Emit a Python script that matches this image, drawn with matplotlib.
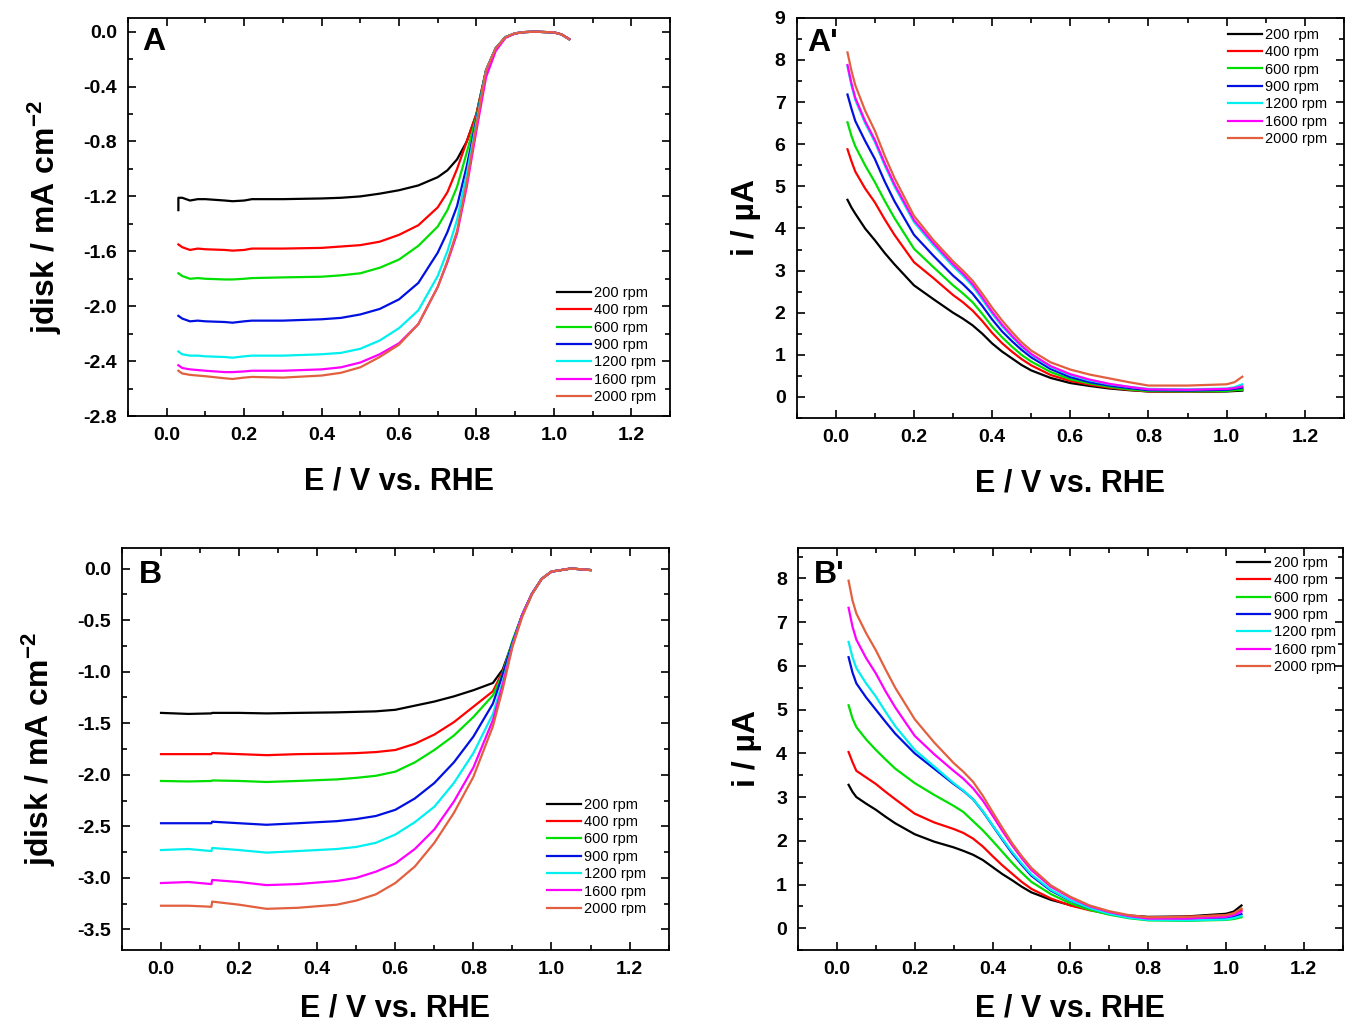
import matplotlib
matplotlib.use("Agg")
import matplotlib.pyplot as plt
from matplotlib.ticker import MultipleLocator, FormatStrFormatter

plt.rcParams['font.family'] = ['Liberation Sans', 'DejaVu Sans']
plt.rcParams['mathtext.fontset'] = 'custom'
plt.rcParams['mathtext.rm'] = 'Liberation Sans:bold'
plt.rcParams['mathtext.bf'] = 'Liberation Sans:bold'
plt.rcParams['mathtext.default'] = 'bf'

labels = ["200 rpm", "400 rpm", "600 rpm", "900 rpm", "1200 rpm", "1600 rpm", "2000 rpm"]
colors = ["#000000", "#ff0000", "#00e000", "#0010e0", "#00f0f0", "#ff00ff", "#e2603f"]

# ---------------- Panel A (disk current) ----------------
EA = [0.03, 0.04, 0.06, 0.08, 0.10, 0.15, 0.17, 0.20, 0.22, 0.30, 0.40, 0.45, 0.50, 0.55,
      0.60, 0.65, 0.70, 0.725, 0.75, 0.775, 0.80, 0.825, 0.85, 0.875, 0.90, 0.925, 0.95,
      1.00, 1.02, 1.04]
tailA = [-0.28, -0.12, -0.04, -0.012, -0.003, 0.0, -0.005, -0.02, -0.055]
jA_200 = [-1.21, -1.21, -1.23, -1.22, -1.22, -1.23, -1.235, -1.23, -1.22, -1.22, -1.215, -1.21,
          -1.20, -1.18, -1.155, -1.12, -1.06, -1.01, -0.93, -0.80, -0.60] + tailA
jA_400 = [-1.55, -1.57, -1.59, -1.58, -1.585, -1.59, -1.595, -1.59, -1.58, -1.58, -1.575, -1.565,
          -1.555, -1.53, -1.48, -1.41, -1.28, -1.17, -1.00, -0.80, -0.60] + tailA
jA_600 = [-1.76, -1.78, -1.80, -1.795, -1.80, -1.805, -1.805, -1.80, -1.795, -1.79, -1.785, -1.775,
          -1.76, -1.72, -1.66, -1.56, -1.42, -1.30, -1.13, -0.88, -0.62] + tailA
jA_900 = [-2.07, -2.09, -2.11, -2.105, -2.11, -2.115, -2.12, -2.11, -2.105, -2.105, -2.095, -2.085,
          -2.06, -2.02, -1.95, -1.83, -1.61, -1.46, -1.27, -0.98, -0.64] + tailA
jA_1200 = [-2.33, -2.35, -2.36, -2.36, -2.365, -2.37, -2.375, -2.365, -2.36, -2.36, -2.35, -2.34,
           -2.31, -2.25, -2.16, -2.03, -1.78, -1.60, -1.37, -1.04, -0.66] + tailA
jA_1600 = [-2.43, -2.45, -2.46, -2.465, -2.47, -2.48, -2.48, -2.475, -2.47, -2.47, -2.46, -2.445,
           -2.41, -2.35, -2.27, -2.13, -1.86, -1.68, -1.47, -1.13, -0.72, -0.33, -0.14,
           -0.045, -0.013, -0.003, 0.0, -0.005, -0.02, -0.055]
jA_2000 = [-2.47, -2.49, -2.50, -2.505, -2.51, -2.525, -2.53, -2.52, -2.515, -2.52, -2.505, -2.485,
           -2.445, -2.37, -2.28, -2.13, -1.86, -1.67, -1.45, -1.10, -0.68] + tailA
A_series = [jA_200, jA_400, jA_600, jA_900, jA_1200, jA_1600, jA_2000]

# ---------------- Panel B (disk current) ----------------
EB = [0.0, 0.07, 0.129, 0.131, 0.20, 0.27, 0.35, 0.45, 0.50, 0.55, 0.60, 0.65, 0.70, 0.75,
      0.80, 0.85, 0.875, 0.90, 0.925, 0.95, 0.975, 1.00, 1.05, 1.10]
tailB = [-0.45, -0.245, -0.10, -0.03, 0.0, -0.015]
jB_200 = [-1.40, -1.41, -1.405, -1.40, -1.40, -1.405, -1.40, -1.395, -1.39, -1.385, -1.37, -1.33,
          -1.29, -1.24, -1.18, -1.11, -0.98, -0.72] + tailB
jB_400 = [-1.80, -1.80, -1.80, -1.79, -1.80, -1.81, -1.80, -1.795, -1.79, -1.78, -1.76, -1.70,
          -1.61, -1.49, -1.34, -1.19, -1.00, -0.72] + tailB
jB_600 = [-2.06, -2.065, -2.06, -2.055, -2.06, -2.07, -2.06, -2.045, -2.03, -2.01, -1.97, -1.88,
          -1.76, -1.62, -1.44, -1.23, -1.02, -0.70] + tailB
jB_900 = [-2.47, -2.47, -2.47, -2.455, -2.47, -2.485, -2.47, -2.45, -2.43, -2.40, -2.34, -2.23,
          -2.08, -1.88, -1.63, -1.31, -1.03, -0.72] + tailB
jB_1200 = [-2.73, -2.72, -2.74, -2.71, -2.73, -2.755, -2.74, -2.72, -2.70, -2.66, -2.58, -2.46,
           -2.31, -2.08, -1.79, -1.41, -1.10, -0.74] + tailB
jB_1600 = [-3.05, -3.04, -3.06, -3.02, -3.04, -3.07, -3.06, -3.03, -3.00, -2.94, -2.86, -2.72,
           -2.53, -2.26, -1.93, -1.47, -1.13, -0.75] + tailB
jB_2000 = [-3.27, -3.27, -3.28, -3.23, -3.26, -3.30, -3.29, -3.26, -3.22, -3.16, -3.05, -2.89,
           -2.66, -2.37, -2.02, -1.53, -1.17, -0.76, -0.47, -0.25, -0.10, -0.03, 0.0, -0.015]
B_series = [jB_200, jB_400, jB_600, jB_900, jB_1200, jB_1600, jB_2000]

# ---------------- Panels A' and B' (ring current) ----------------
ER = [0.03, 0.04, 0.05, 0.075, 0.10, 0.125, 0.15, 0.20, 0.25, 0.30, 0.325, 0.35, 0.375, 0.40,
      0.425, 0.45, 0.475, 0.50, 0.55, 0.60, 0.65, 0.70, 0.75, 0.80, 0.90, 1.00, 1.02, 1.04]
iA_200 = [4.68, 4.50, 4.35, 4.00, 3.72, 3.42, 3.15, 2.65, 2.32, 2.00, 1.86, 1.70, 1.50, 1.27,
          1.08, 0.92, 0.76, 0.63, 0.45, 0.33, 0.26, 0.20, 0.16, 0.13, 0.12, 0.13, 0.14, 0.15]
iA_400 = [5.88, 5.60, 5.35, 4.95, 4.62, 4.22, 3.85, 3.20, 2.82, 2.42, 2.25, 2.05, 1.80, 1.52,
          1.28, 1.08, 0.90, 0.75, 0.52, 0.38, 0.29, 0.22, 0.17, 0.13, 0.12, 0.14, 0.16, 0.18]
iA_600 = [6.52, 6.20, 5.95, 5.50, 5.10, 4.66, 4.25, 3.52, 3.08, 2.65, 2.46, 2.25, 1.97, 1.67,
          1.42, 1.20, 1.00, 0.84, 0.59, 0.42, 0.32, 0.24, 0.18, 0.14, 0.13, 0.14, 0.16, 0.17]
iA_900 = [7.18, 6.85, 6.55, 6.08, 5.65, 5.12, 4.65, 3.85, 3.35, 2.88, 2.68, 2.45, 2.16, 1.84,
          1.56, 1.33, 1.12, 0.94, 0.66, 0.47, 0.35, 0.27, 0.21, 0.16, 0.15, 0.17, 0.19, 0.22]
iA_1200 = [7.85, 7.40, 7.05, 6.50, 6.05, 5.50, 5.00, 4.15, 3.60, 3.10, 2.88, 2.63, 2.31, 1.98,
           1.68, 1.43, 1.20, 1.00, 0.71, 0.52, 0.39, 0.30, 0.24, 0.19, 0.18, 0.20, 0.23, 0.30]
iA_1600 = [7.88, 7.45, 7.10, 6.55, 6.10, 5.55, 5.05, 4.20, 3.65, 3.15, 2.93, 2.68, 2.36, 2.02,
           1.72, 1.46, 1.22, 1.02, 0.73, 0.54, 0.41, 0.31, 0.24, 0.18, 0.17, 0.19, 0.21, 0.25]
iA_2000 = [8.18, 7.75, 7.40, 6.80, 6.32, 5.73, 5.20, 4.30, 3.72, 3.22, 3.00, 2.76, 2.45, 2.12,
           1.82, 1.55, 1.30, 1.10, 0.82, 0.65, 0.53, 0.44, 0.35, 0.27, 0.27, 0.30, 0.35, 0.48]
Ap_series = [iA_200, iA_400, iA_600, iA_900, iA_1200, iA_1600, iA_2000]

iB_200 = [3.28, 3.12, 3.00, 2.85, 2.71, 2.55, 2.40, 2.15, 1.98, 1.85, 1.77, 1.68, 1.56, 1.40,
          1.24, 1.10, 0.95, 0.82, 0.65, 0.53, 0.43, 0.35, 0.29, 0.26, 0.27, 0.33, 0.38, 0.52]
iB_400 = [4.03, 3.80, 3.60, 3.45, 3.30, 3.12, 2.95, 2.62, 2.42, 2.27, 2.18, 2.05, 1.87, 1.65,
          1.44, 1.25, 1.06, 0.90, 0.68, 0.52, 0.41, 0.33, 0.28, 0.25, 0.26, 0.30, 0.34, 0.42]
iB_600 = [5.10, 4.80, 4.60, 4.32, 4.08, 3.86, 3.65, 3.32, 3.05, 2.80, 2.66, 2.45, 2.24, 2.00,
          1.75, 1.50, 1.27, 1.06, 0.78, 0.57, 0.42, 0.31, 0.23, 0.18, 0.17, 0.19, 0.21, 0.25]
iB_900 = [6.20, 5.85, 5.60, 5.28, 5.00, 4.72, 4.45, 4.00, 3.65, 3.30, 3.14, 2.95, 2.67, 2.35,
          2.03, 1.72, 1.45, 1.20, 0.86, 0.63, 0.46, 0.34, 0.25, 0.20, 0.20, 0.23, 0.26, 0.32]
iB_1200 = [6.55, 6.20, 5.95, 5.60, 5.30, 4.95, 4.62, 4.08, 3.70, 3.32, 3.15, 2.95, 2.68, 2.36,
           2.05, 1.75, 1.48, 1.23, 0.88, 0.64, 0.46, 0.33, 0.24, 0.19, 0.18, 0.20, 0.23, 0.28]
iB_1600 = [7.33, 6.90, 6.60, 6.18, 5.83, 5.42, 5.05, 4.40, 3.98, 3.60, 3.42, 3.20, 2.92, 2.58,
           2.23, 1.90, 1.60, 1.33, 0.95, 0.70, 0.50, 0.37, 0.28, 0.22, 0.22, 0.26, 0.30, 0.38]
iB_2000 = [7.95, 7.50, 7.20, 6.75, 6.36, 5.92, 5.50, 4.78, 4.25, 3.78, 3.58, 3.35, 3.03, 2.66,
           2.30, 1.95, 1.65, 1.38, 0.98, 0.72, 0.52, 0.39, 0.30, 0.25, 0.26, 0.30, 0.34, 0.45]
Bp_series = [iB_200, iB_400, iB_600, iB_900, iB_1200, iB_1600, iB_2000]

xlabel = "E / V vs. RHE"
ylabel_disk = "jdisk / mA cm$^{-2}$"
ylabel_ring = "i / \u00b5A"

fig = plt.figure(figsize=(13.48, 10.26), dpi=100)
axA = fig.add_axes([0.095, 0.5945, 0.402, 0.388])
axAp = fig.add_axes([0.591, 0.5926, 0.406, 0.390])
axB = fig.add_axes([0.0905, 0.074, 0.4055, 0.392])
axBp = fig.add_axes([0.592, 0.074, 0.404, 0.392])


def style(ax, ylim, ymaj, ymin, xpad):
    ax.set_xlim(-0.1, 1.3)
    ax.set_ylim(*ylim)
    ax.xaxis.set_major_locator(MultipleLocator(0.2))
    ax.xaxis.set_minor_locator(MultipleLocator(0.1))
    ax.yaxis.set_major_locator(MultipleLocator(ymaj))
    ax.yaxis.set_minor_locator(MultipleLocator(ymin))
    ax.tick_params(which='both', direction='in', top=True, right=True, width=1.2)
    ax.tick_params(which='major', length=6, labelsize=14, pad=8)
    ax.tick_params(which='minor', length=3.5)
    for lab in ax.get_xticklabels() + ax.get_yticklabels():
        lab.set_fontweight('bold')
    for s in ax.spines.values():
        s.set_linewidth(1.3)
    ax.set_xlabel(xlabel, fontsize=22, fontweight='bold', labelpad=xpad)


def add_legend(ax, loc, anchor):
    ax.legend(loc=loc, bbox_to_anchor=anchor, frameon=False, fontsize=10.5,
              handlelength=2.3, handletextpad=0.25, labelspacing=0.23,
              borderpad=0, borderaxespad=0)


for ys, c, l in zip(A_series, colors, labels):
    if ys is jA_200:
        axA.plot([EA[0]] + EA, [-1.30] + ys, color=c, lw=1.6, label=l)
    else:
        axA.plot(EA, ys, color=c, lw=1.6, label=l)
style(axA, (-2.8, 0.1), 0.4, 0.2, 16)
axA.yaxis.set_major_formatter(FormatStrFormatter('%.1f'))
axA.set_ylabel(ylabel_disk, fontsize=23, fontweight='bold', labelpad=14)
axA.text(0.027, 0.978, "A", transform=axA.transAxes, fontsize=23, fontweight='bold',
         ha='left', va='top')
add_legend(axA, 'lower right', (0.975, 0.03))

for ys, c, l in zip(Ap_series, colors, labels):
    axAp.plot(ER, ys, color=c, lw=1.6, label=l)
style(axAp, (-0.5, 9), 1, 0.5, 16)
axAp.set_ylabel(ylabel_ring, fontsize=23, fontweight='bold', labelpad=10)
axAp.text(0.02, 0.975, "A'", transform=axAp.transAxes, fontsize=23, fontweight='bold',
          ha='left', va='top')
add_legend(axAp, 'upper right', (0.97, 0.975))

for ys, c, l in zip(B_series, colors, labels):
    axB.plot(EB, ys, color=c, lw=1.6, label=l)
style(axB, (-3.7, 0.2), 0.5, 0.25, 11)
axB.yaxis.set_major_formatter(FormatStrFormatter('%.1f'))
axB.set_ylabel(ylabel_disk, fontsize=23, fontweight='bold', labelpad=14)
axB.text(0.03, 0.97, "B", transform=axB.transAxes, fontsize=23, fontweight='bold',
         ha='left', va='top')
add_legend(axB, 'lower right', (0.96, 0.085))

for ys, c, l in zip(Bp_series, colors, labels):
    axBp.plot(ER, ys, color=c, lw=1.6, label=l)
style(axBp, (-0.5, 8.7), 1, 0.5, 11)
axBp.set_ylabel(ylabel_ring, fontsize=23, fontweight='bold', labelpad=10)
axBp.text(0.03, 0.97, "B'", transform=axBp.transAxes, fontsize=23, fontweight='bold',
          ha='left', va='top')
add_legend(axBp, 'upper right', (0.988, 0.98))

fig.savefig("out.png", dpi=100)
